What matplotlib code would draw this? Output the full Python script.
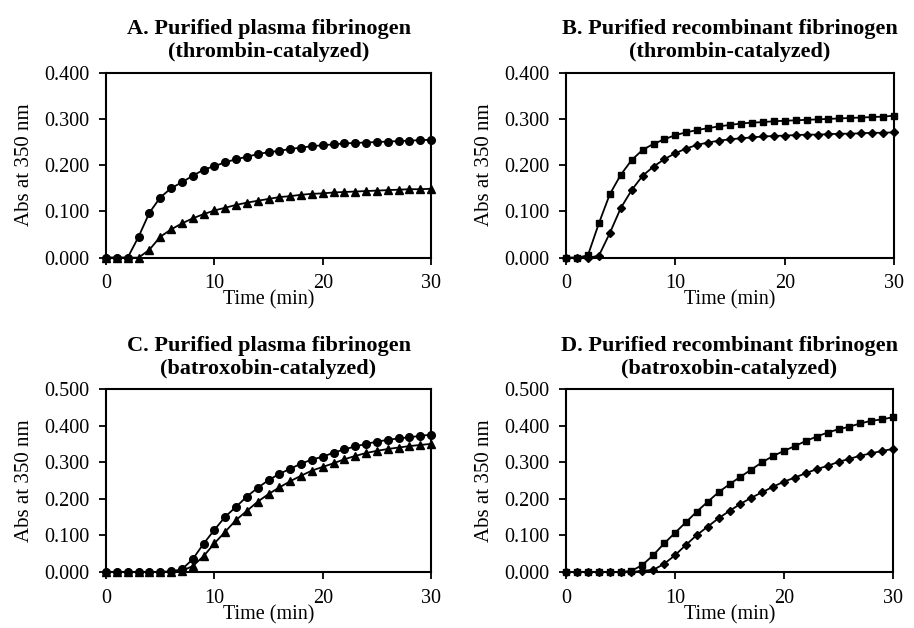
import matplotlib
matplotlib.use("Agg")
import matplotlib.pyplot as plt

plt.rcParams['font.family'] = ['Liberation Serif', 'DejaVu Serif']

time_min = list(range(31))

# A. plasma fibrinogen, thrombin
a_circle = [0, 0, 0, 0.045, 0.097, 0.130, 0.150, 0.163, 0.177, 0.190, 0.198,
            0.206, 0.213, 0.218, 0.224, 0.228, 0.231, 0.235, 0.238, 0.241, 0.243,
            0.245, 0.247, 0.248, 0.249, 0.250, 0.251, 0.252, 0.253, 0.254, 0.255]
a_triangle = [0, 0, 0, 0, 0.017, 0.045, 0.061, 0.074, 0.085, 0.094, 0.102,
              0.108, 0.114, 0.119, 0.123, 0.127, 0.131, 0.133, 0.136, 0.138, 0.139,
              0.141, 0.142, 0.143, 0.144, 0.145, 0.146, 0.147, 0.148, 0.148, 0.149]

# B. recombinant fibrinogen, thrombin
b_square = [0, 0, 0.005, 0.074, 0.137, 0.179, 0.211, 0.233, 0.246, 0.256, 0.265,
            0.271, 0.276, 0.280, 0.284, 0.287, 0.290, 0.292, 0.293, 0.295, 0.296,
            0.297, 0.298, 0.299, 0.300, 0.301, 0.302, 0.303, 0.304, 0.305, 0.307]
b_diamond = [0, 0, 0, 0.004, 0.053, 0.107, 0.146, 0.177, 0.197, 0.213, 0.226,
             0.236, 0.244, 0.249, 0.253, 0.256, 0.258, 0.260, 0.262, 0.263, 0.264,
             0.265, 0.266, 0.266, 0.267, 0.268, 0.268, 0.269, 0.270, 0.270, 0.271]

# C. plasma fibrinogen, batroxobin
c_circle = [0, 0, 0, 0, 0, 0, 0.002, 0.007, 0.035, 0.077, 0.115,
            0.151, 0.178, 0.206, 0.230, 0.251, 0.268, 0.282, 0.296, 0.307, 0.315,
            0.326, 0.335, 0.343, 0.350, 0.356, 0.361, 0.365, 0.368, 0.372, 0.375]
c_triangle = [0, 0, 0, 0, 0, 0, 0, 0.003, 0.016, 0.043, 0.078,
              0.110, 0.142, 0.167, 0.192, 0.213, 0.231, 0.248, 0.263, 0.277, 0.287,
              0.297, 0.308, 0.317, 0.325, 0.331, 0.336, 0.340, 0.344, 0.347, 0.350]

# D. recombinant fibrinogen, batroxobin
d_square = [0, 0, 0, 0, 0, 0, 0.003, 0.019, 0.046, 0.078, 0.107,
            0.136, 0.165, 0.192, 0.218, 0.240, 0.260, 0.280, 0.300, 0.317, 0.331,
            0.344, 0.358, 0.370, 0.381, 0.390, 0.397, 0.406, 0.413, 0.417, 0.423]
d_diamond = [0, 0, 0, 0, 0, 0, 0, 0.003, 0.006, 0.022, 0.046,
             0.074, 0.101, 0.124, 0.147, 0.167, 0.186, 0.203, 0.218, 0.233, 0.247,
             0.258, 0.270, 0.281, 0.290, 0.301, 0.309, 0.318, 0.324, 0.331, 0.336]

titles = ["A. Purified plasma fibrinogen\n(thrombin-catalyzed)",
          "B. Purified recombinant fibrinogen\n(thrombin-catalyzed)",
          "C. Purified plasma fibrinogen\n(batroxobin-catalyzed)",
          "D. Purified recombinant fibrinogen\n(batroxobin-catalyzed)"]
x_ticks = [0, 10, 20, 30]
y_ticks_top = [0.0, 0.1, 0.2, 0.3, 0.4]
y_ticks_bottom = [0.0, 0.1, 0.2, 0.3, 0.4, 0.5]

panels = [
    (titles[0], [(a_circle, 'o', 5.5), (a_triangle, '^', 5.5)], y_ticks_top),
    (titles[1], [(b_square, 's', 5), (b_diamond, 'D', 3.8)], y_ticks_top),
    (titles[2], [(c_circle, 'o', 5.5), (c_triangle, '^', 5.5)], y_ticks_bottom),
    (titles[3], [(d_square, 's', 5), (d_diamond, 'D', 3.8)], y_ticks_bottom),
]

fig = plt.figure(figsize=(9.14, 6.28), dpi=100)
boxes = [
    [0.116, 0.5897, 0.3556, 0.2946],
    [0.6193, 0.5897, 0.3589, 0.2946],
    [0.116, 0.0892, 0.3556, 0.2914],
    [0.6193, 0.0892, 0.3578, 0.2914],
]

for box, (title, series, yt) in zip(boxes, panels):
    ax = fig.add_axes(box)
    for vals, mk, ms in series:
        ax.plot(time_min, vals, color='black', lw=1.3, marker=mk,
                markersize=ms, clip_on=False, zorder=3)
    ax.set_xlim(0, 30)
    ax.set_ylim(0, yt[-1])
    ax.set_xticks(x_ticks)
    ax.set_yticks(yt)
    ax.set_yticklabels(["%.3f" % v for v in yt])
    ax.tick_params(direction='out', length=5, width=1.3, labelsize=14.5, pad=7)
    for s in ax.spines.values():
        s.set_linewidth(1.5)
    ax.set_xlabel("Time (min)", fontsize=14.5, labelpad=-2)
    ax.set_ylabel("Abs at 350 nm", fontsize=15, labelpad=7)
    ax.set_title(title, fontsize=16, fontweight='bold', pad=11, linespacing=1.2)

fig.savefig("out.png", dpi=100)
